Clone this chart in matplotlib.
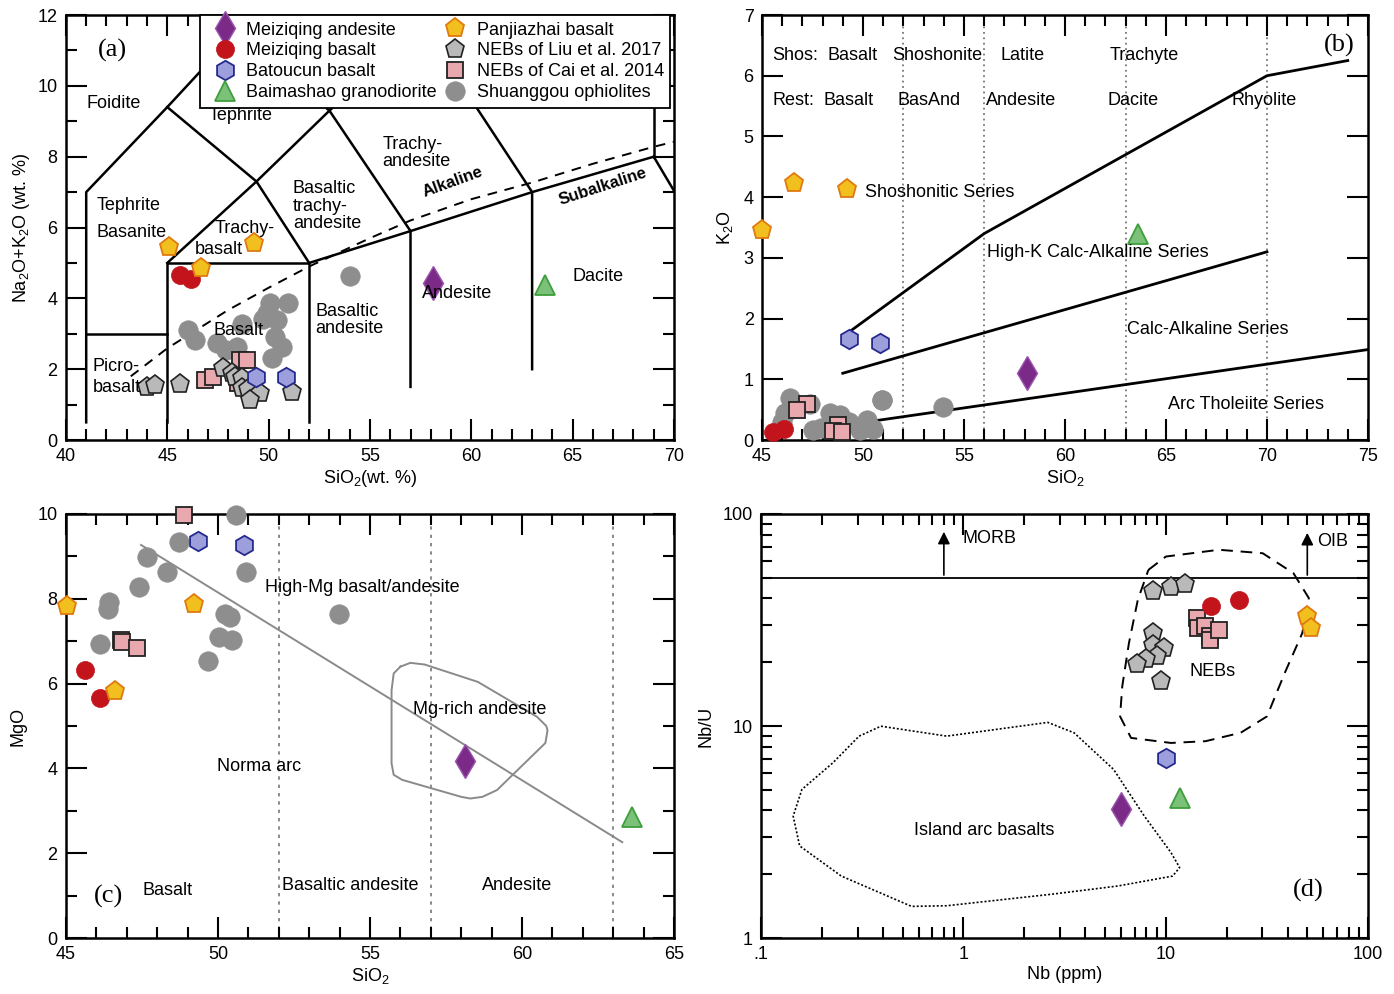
import numpy as np
import matplotlib
matplotlib.use("Agg")
import matplotlib.pyplot as plt
from matplotlib.ticker import MultipleLocator, FixedLocator, NullFormatter, LogLocator

plt.rcParams['font.family'] = ['Liberation Sans', 'DejaVu Sans']
plt.rcParams['mathtext.fontset'] = 'custom'
plt.rcParams['mathtext.rm'] = 'Liberation Sans'

# ---------------- data: (a) TAS ----------------
a_mzand_x = [58.13]; a_mzand_y = [4.44]
a_mzbas_x = [45.65, 46.15]; a_mzbas_y = [4.65, 4.55]
a_bat_x = [49.37, 50.88]; a_bat_y = [1.79, 1.79]
a_bms_x = [63.66]; a_bms_y = [4.38]
a_pjz_x = [45.09, 49.26, 46.65]; a_pjz_y = [5.46, 5.55, 4.85]
a_liu_x = [43.98, 44.39, 45.62, 47.76, 48.17, 48.34, 48.67, 48.67, 49.0, 49.57, 49.08, 51.13]
a_liu_y = [1.51, 1.55, 1.58, 2.02, 1.88, 1.79, 1.74, 1.46, 1.45, 1.32, 1.13, 1.36]
a_cai_x = [46.86, 47.27, 48.58, 48.91, 48.5]
a_cai_y = [1.69, 1.79, 2.26, 2.26, 1.6]
a_shg_x = [54.02, 50.06, 50.97, 49.74, 48.67, 50.39, 46.03, 46.36, 47.43, 47.92, 48.42, 50.31, 50.64, 50.15, 49.9]
a_shg_y = [4.63, 3.86, 3.86, 3.43, 3.29, 3.39, 3.11, 2.82, 2.73, 2.54, 2.63, 2.92, 2.63, 2.31, 3.6]

# TAS boundaries
tas_lines = [
    ([41, 41, 45, 48.4], [0.5, 7, 9.4, 11.5]),
    ([41, 45], [3, 3]),
    ([45, 45, 52, 52], [0.5, 5, 5, 0.5]),
    ([45, 49.4, 52], [5, 7.3, 5]),
    ([45, 49.4], [9.4, 7.3]),
    ([49.4, 53, 57.6], [7.3, 9.3, 11.7]),
    ([53, 57, 57], [9.3, 5.9, 1.5]),
    ([52, 57, 63, 69], [5, 5.9, 7, 8]),
    ([57.6, 63, 63], [11.7, 7, 2]),
    ([69, 69], [8, 13]),
    ([69, 77.3], [8, 0]),
    ([48.4, 53], [11.5, 9.3]),
]
alk_x = [43.2, 45, 48, 50, 52, 55, 57, 60, 63, 66, 69, 70]
alk_y = [1.8, 2.59, 3.67, 4.3, 4.9, 5.7, 6.2, 6.8, 7.27, 7.8, 8.28, 8.42]

# ---------------- data: (b) K2O-SiO2 ----------------
b_mzand_x = [58.11]; b_mzand_y = [1.11]
b_mzbas_x = [45.57, 46.09]; b_mzbas_y = [0.14, 0.19]
b_bat_x = [49.32, 50.86]; b_bat_y = [1.66, 1.6]
b_bms_x = [63.6]; b_bms_y = [3.4]
b_pjz_x = [45.02, 46.6, 49.22]; b_pjz_y = [3.46, 4.24, 4.13]
b_cai_x = [47.21, 46.72, 48.78, 48.5, 48.95]
b_cai_y = [0.6, 0.49, 0.25, 0.15, 0.14]
b_shg_x = [50.96, 53.97, 46.39, 46.14, 47.54, 48.37, 48.86, 50.18, 50.51, 49.85, 50.93, 47.38, 46.0, 49.3, 47.9]
b_shg_y = [0.66, 0.54, 0.69, 0.44, 0.16, 0.44, 0.41, 0.33, 0.19, 0.16, 0.66, 0.6, 0.3, 0.3, 0.2]

shos_x = [49.4, 56, 70, 74]; shos_y = [1.8, 3.4, 6.0, 6.25]
hk_x = [49.0, 70]; hk_y = [1.1, 3.1]
th_x = [49.4, 75]; th_y = [0.26, 1.49]
b_vlines = [52, 56, 63, 70]

# ---------------- data: (c) MgO-SiO2 ----------------
c_mzand_x = [58.11]; c_mzand_y = [4.18]
c_mzbas_x = [45.64, 46.12]; c_mzbas_y = [6.31, 5.67]
c_bat_x = [49.34, 50.86]; c_bat_y = [9.37, 9.27]
c_bms_x = [63.61]; c_bms_y = [2.86]
c_pjz_x = [45.04, 49.2, 46.61]; c_pjz_y = [7.82, 7.87, 5.83]
c_cai_x = [46.8, 46.85, 47.35, 48.88]; c_cai_y = [7.02, 6.98, 6.83, 9.98]
c_shg_x = [50.59, 48.71, 47.67, 48.34, 50.93, 47.4, 46.43, 46.39, 50.24, 50.41, 53.98, 50.03, 50.45, 49.68, 46.11]
c_shg_y = [9.98, 9.33, 8.98, 8.63, 8.64, 8.29, 7.92, 7.76, 7.65, 7.57, 7.63, 7.1, 7.04, 6.53, 6.93]

c_line_x = [47.47, 63.3]; c_line_y = [9.27, 2.26]
mgand_x = [56.0, 56.33, 56.8, 58.55, 60.49, 60.8, 60.84, 60.77, 59.18, 58.7, 58.3, 58.0, 56.06, 55.78, 55.71, 55.71, 55.78, 56.0]
mgand_y = [6.4, 6.49, 6.45, 6.04, 5.22, 5.0, 4.9, 4.6, 3.49, 3.33, 3.29, 3.33, 3.73, 3.85, 4.12, 5.84, 6.24, 6.4]
c_vlines = [52, 57, 63]

# ---------------- data: (d) Nb/U-Nb ----------------
d_mzand_x = [6.01]; d_mzand_y = [4.05]
d_mzbas_x = [16.8, 22.9]; d_mzbas_y = [36.9, 39.4]
d_bat_x = [10.0]; d_bat_y = [7.08]
d_bms_x = [11.8]; d_bms_y = [4.59]
d_pjz_x = [49.7, 52.2]; d_pjz_y = [32.9, 29.0]
d_liu_x = [8.65, 10.6, 12.4, 8.65, 8.65, 9.8, 9.0, 8.02, 7.19, 9.47]
d_liu_y = [43.1, 45.2, 46.9, 27.4, 24.2, 23.3, 21.5, 20.7, 19.7, 16.3]
d_cai_x = [14.3, 14.4, 15.7, 16.6, 16.6, 18.3]
d_cai_y = [32.3, 29.0, 29.5, 26.5, 25.5, 28.5]

neb_x = [8.2, 10.0, 18.3, 30.1, 42.7, 50.9, 47.2, 38.7, 31.6, 23.4, 15.7, 10.6, 6.73, 5.94, 6.09, 6.57, 7.27, 8.2]
neb_y = [54.5, 63.0, 67.8, 65.3, 52.6, 40.1, 27.4, 17.8, 11.1, 9.29, 8.48, 8.32, 8.79, 11.1, 15.4, 24.6, 39.4, 54.5]
iab_x = [0.391, 0.826, 2.61, 3.52, 5.52, 7.83, 10.6, 11.7, 10.8, 5.8, 2.74, 0.826, 0.554, 0.249, 0.155, 0.144, 0.159, 0.226, 0.305, 0.391]
iab_y = [9.98, 8.96, 10.4, 9.29, 6.24, 3.76, 2.53, 2.15, 1.96, 1.76, 1.61, 1.42, 1.41, 1.96, 2.72, 3.76, 5.02, 6.7, 8.96, 9.98]

STY = {
    'Meiziqing andesite': dict(marker='d', mfc='#7b2a87', mec='#9a55ad', ms=17, mew=1.0),
    'Meiziqing basalt': dict(marker='o', mfc='#c3141c', mec='#c3141c', ms=13, mew=0.5),
    'Batoucun basalt': dict(marker='h', mfc='#9d9fdc', mec='#252a8e', ms=14, mew=1.3),
    'Baimashao granodiorite': dict(marker='^', mfc='#7cc17a', mec='#3f9e3c', ms=15, mew=1.3),
    'Panjiazhai basalt': dict(marker='p', mfc='#f2c01e', mec='#e07a10', ms=14, mew=1.3),
    'NEBs of Liu et al. 2017': dict(marker='p', mfc='#b9b9b9', mec='#222222', ms=14, mew=1.2),
    'NEBs of Cai et al. 2014': dict(marker='s', mfc='#e9a8ae', mec='#222222', ms=12, mew=1.3),
    'Shuanggou ophiolites': dict(marker='o', mfc='#8e8e8e', mec='#8e8e8e', ms=14, mew=0.5),
}


def pts(ax, x, y, key):
    ax.plot(x, y, ls='none', clip_on=False, zorder=3, **STY[key])


def style(ax):
    ax.tick_params(which='both', direction='in', top=True, right=True, labelsize=13, width=1.5)
    ax.tick_params(which='major', length=15, pad=6)
    ax.tick_params(which='minor', length=8)
    for s in ax.spines.values():
        s.set_linewidth(1.8)


fig = plt.figure(figsize=(13.94, 9.94), dpi=100)
axa = fig.add_axes([0.0473, 0.5573, 0.4362, 0.4276])
axb = fig.add_axes([0.5466, 0.5573, 0.4347, 0.4276])
axc = fig.add_axes([0.0473, 0.0563, 0.4362, 0.4266])
axd = fig.add_axes([0.5460, 0.0563, 0.4355, 0.4266])

fs = 13

# ---------- (a) ----------
for lx, ly in tas_lines:
    axa.plot(lx, ly, color='k', lw=1.8, zorder=1)
axa.plot(alk_x, alk_y, color='k', lw=1.4, ls=(0, (5, 4)), zorder=1)
pts(axa, a_shg_x, a_shg_y, 'Shuanggou ophiolites')
pts(axa, a_cai_x, a_cai_y, 'NEBs of Cai et al. 2014')
pts(axa, a_liu_x, a_liu_y, 'NEBs of Liu et al. 2017')
pts(axa, a_mzbas_x, a_mzbas_y, 'Meiziqing basalt')
pts(axa, a_pjz_x, a_pjz_y, 'Panjiazhai basalt')
pts(axa, a_bat_x, a_bat_y, 'Batoucun basalt')
pts(axa, a_bms_x, a_bms_y, 'Baimashao granodiorite')
pts(axa, a_mzand_x, a_mzand_y, 'Meiziqing andesite')

order = ['Meiziqing andesite', 'Meiziqing basalt', 'Batoucun basalt', 'Baimashao granodiorite',
         'Panjiazhai basalt', 'NEBs of Liu et al. 2017', 'NEBs of Cai et al. 2014', 'Shuanggou ophiolites']
handles = [plt.Line2D([], [], ls='none', **STY[k]) for k in order]
leg = axa.legend(handles, order, ncol=2, loc='upper right', bbox_to_anchor=(0.994, 1.0),
                 borderaxespad=0, fontsize=13, frameon=True, fancybox=False, framealpha=1,
                 edgecolor='k', handletextpad=0.2, columnspacing=0.0, labelspacing=0.22,
                 borderpad=0.36, handlelength=2.0)
leg.get_frame().set_linewidth(1.3)
leg.set_zorder(10)

axa.text(42.3, 11.0, '(a)', family='Liberation Serif', fontsize=19, ha='center', va='center')
axa.text(42.37, 9.51, 'Foidite', fontsize=fs, ha='center', va='center')
axa.text(48.63, 9.15, 'Tephrite', fontsize=fs, ha='center', va='center')
axa.text(43.1, 6.63, 'Tephrite', fontsize=fs, ha='center', va='center')
axa.text(43.26, 5.87, 'Basanite', fontsize=fs, ha='center', va='center')
axa.text(48.83, 5.96, 'Trachy-', fontsize=fs, ha='center', va='center')
axa.text(47.55, 5.39, 'basalt', fontsize=fs, ha='center', va='center')
axa.text(51.2, 6.6, 'Basaltic\ntrachy-\nandesite', fontsize=fs, ha='left', va='center', linespacing=1.05)
axa.text(55.6, 8.1, 'Trachy-\nandesite', fontsize=fs, ha='left', va='center', linespacing=1.05)
axa.text(59.1, 7.3, 'Alkaline', fontsize=12, ha='center', va='center', rotation=20, weight='bold')
axa.text(66.5, 7.15, 'Subalkaline', fontsize=12, ha='center', va='center', rotation=18, weight='bold')
axa.text(52.3, 3.39, 'Basaltic\nandesite', fontsize=fs, ha='left', va='center', linespacing=1.05)
axa.text(59.3, 4.15, 'Andesite', fontsize=fs, ha='center', va='center')
axa.text(66.25, 4.63, 'Dacite', fontsize=fs, ha='center', va='center')
axa.text(48.5, 3.1, 'Basalt', fontsize=fs, ha='center', va='center')
axa.text(41.33, 1.78, 'Picro-\nbasalt', fontsize=fs, ha='left', va='center', linespacing=1.3)

axa.set_xlim(40, 70)
axa.set_ylim(0, 12)
axa.xaxis.set_major_locator(MultipleLocator(5))
axa.xaxis.set_minor_locator(MultipleLocator(1))
axa.yaxis.set_major_locator(MultipleLocator(2))
axa.yaxis.set_minor_locator(MultipleLocator(1))
axa.set_xlabel(r'SiO$_2$(wt. %)', fontsize=13, labelpad=2)
axa.set_ylabel(r'Na$_2$O+K$_2$O (wt. %)', fontsize=13, labelpad=4)
style(axa)

# ---------- (b) ----------
for v in b_vlines:
    axb.axvline(v, color='#777777', lw=1.3, ls=(0, (1, 2)), zorder=1)
axb.plot(shos_x, shos_y, color='k', lw=2, zorder=1)
axb.plot(hk_x, hk_y, color='k', lw=2, zorder=1)
axb.plot(th_x, th_y, color='k', lw=2, zorder=1)
pts(axb, b_shg_x, b_shg_y, 'Shuanggou ophiolites')
pts(axb, b_cai_x, b_cai_y, 'NEBs of Cai et al. 2014')
pts(axb, b_mzbas_x, b_mzbas_y, 'Meiziqing basalt')
pts(axb, b_pjz_x, b_pjz_y, 'Panjiazhai basalt')
pts(axb, b_bat_x, b_bat_y, 'Batoucun basalt')
pts(axb, b_bms_x, b_bms_y, 'Baimashao granodiorite')
pts(axb, b_mzand_x, b_mzand_y, 'Meiziqing andesite')

row1 = [(45.5, 'Shos:'), (48.24, 'Basalt'), (51.45, 'Shoshonite'), (56.8, 'Latite'), (62.22, 'Trachyte')]
row2 = [(45.5, 'Rest:'), (48.03, 'Basalt'), (51.7, 'BasAnd'), (56.1, 'Andesite'), (62.12, 'Dacite'), (68.27, 'Rhyolite')]
for x, t in row1:
    axb.text(x, 6.34, t, fontsize=fs, ha='left', va='center')
for x, t in row2:
    axb.text(x, 5.6, t, fontsize=fs, ha='left', va='center')
axb.text(73.6, 6.5, '(b)', family='Liberation Serif', fontsize=19, ha='center', va='center')
axb.text(50.12, 4.07, 'Shoshonitic Series', fontsize=fs, ha='left', va='center')
axb.text(56.12, 3.09, 'High-K Calc-Alkaline Series', fontsize=fs, ha='left', va='center')
axb.text(63.08, 1.82, 'Calc-Alkaline Series', fontsize=fs, ha='left', va='center')
axb.text(65.09, 0.58, 'Arc Tholeiite Series', fontsize=fs, ha='left', va='center')

axb.set_xlim(45, 75)
axb.set_ylim(0, 7)
axb.xaxis.set_major_locator(MultipleLocator(5))
axb.xaxis.set_minor_locator(MultipleLocator(1))
axb.yaxis.set_major_locator(MultipleLocator(1))
axb.set_xlabel(r'SiO$_2$', fontsize=13, labelpad=2)
axb.set_ylabel(r'K$_2$O', fontsize=13, labelpad=6)
style(axb)

# ---------- (c) ----------
for v in c_vlines:
    axc.axvline(v, color='#777777', lw=1.2, ls=(0, (2, 3)), zorder=1)
axc.plot(c_line_x, c_line_y, color='#8a8a8a', lw=1.4, zorder=1)
axc.plot(mgand_x, mgand_y, color='#8a8a8a', lw=1.4, zorder=1)
pts(axc, c_shg_x, c_shg_y, 'Shuanggou ophiolites')
pts(axc, c_cai_x, c_cai_y, 'NEBs of Cai et al. 2014')
pts(axc, c_mzbas_x, c_mzbas_y, 'Meiziqing basalt')
pts(axc, c_pjz_x, c_pjz_y, 'Panjiazhai basalt')
pts(axc, c_bat_x, c_bat_y, 'Batoucun basalt')
pts(axc, c_bms_x, c_bms_y, 'Baimashao granodiorite')
pts(axc, c_mzand_x, c_mzand_y, 'Meiziqing andesite')

axc.text(51.56, 8.27, 'High-Mg basalt/andesite', fontsize=fs, ha='left', va='center')
axc.text(56.41, 5.39, 'Mg-rich andesite', fontsize=fs, ha='left', va='center')
axc.text(49.96, 4.04, 'Norma arc', fontsize=fs, ha='left', va='center')
axc.text(47.51, 1.12, 'Basalt', fontsize=fs, ha='left', va='center')
axc.text(46.39, 0.98, '(c)', family='Liberation Serif', fontsize=19, ha='center', va='center')
axc.text(52.11, 1.25, 'Basaltic andesite', fontsize=fs, ha='left', va='center')
axc.text(58.67, 1.25, 'Andesite', fontsize=fs, ha='left', va='center')

axc.set_xlim(45, 65)
axc.set_ylim(0, 10)
axc.xaxis.set_major_locator(MultipleLocator(5))
axc.xaxis.set_minor_locator(MultipleLocator(1))
axc.yaxis.set_major_locator(MultipleLocator(2))
axc.yaxis.set_minor_locator(MultipleLocator(1))
axc.set_xlabel(r'SiO$_2$', fontsize=13, labelpad=2)
axc.set_ylabel('MgO', fontsize=13, labelpad=8)
style(axc)

# ---------- (d) ----------
axd.set_xscale('log')
axd.set_yscale('log')
axd.axhline(50, color='k', lw=1.3, zorder=1)
axd.annotate('', xy=(0.8, 85), xytext=(0.8, 50),
             arrowprops=dict(arrowstyle='-|>', color='k', lw=1.2, mutation_scale=18))
axd.annotate('', xy=(50, 84), xytext=(50, 50),
             arrowprops=dict(arrowstyle='-|>', color='k', lw=1.2, mutation_scale=18))
axd.text(0.99, 77, 'MORB', fontsize=fs, ha='left', va='center')
axd.text(56, 74, 'OIB', fontsize=fs, ha='left', va='center')
axd.plot(neb_x, neb_y, color='k', lw=1.4, ls=(0, (6, 4)), zorder=1)
axd.plot(iab_x, iab_y, color='k', lw=1.2, ls=(0, (1.2, 1.2)), zorder=1)
pts(axd, d_liu_x, d_liu_y, 'NEBs of Liu et al. 2017')
pts(axd, d_cai_x, d_cai_y, 'NEBs of Cai et al. 2014')
pts(axd, d_mzbas_x, d_mzbas_y, 'Meiziqing basalt')
pts(axd, d_pjz_x, d_pjz_y, 'Panjiazhai basalt')
pts(axd, d_bat_x, d_bat_y, 'Batoucun basalt')
pts(axd, d_bms_x, d_bms_y, 'Baimashao granodiorite')
pts(axd, d_mzand_x, d_mzand_y, 'Meiziqing andesite')

axd.text(17.0, 18.1, 'NEBs', fontsize=fs, ha='center', va='center')
axd.text(1.26, 3.2, 'Island arc basalts', fontsize=fs, ha='center', va='center')
axd.text(50.5, 1.67, '(d)', family='Liberation Serif', fontsize=19, ha='center', va='center')

axd.set_xlim(0.1, 100)
axd.set_ylim(1, 100)
axd.xaxis.set_major_locator(FixedLocator([0.1, 1, 10, 100]))
axd.set_xticklabels(['.1', '1', '10', '100'])
axd.xaxis.set_minor_locator(LogLocator(base=10, subs=np.arange(2, 10)))
axd.xaxis.set_minor_formatter(NullFormatter())
axd.yaxis.set_major_locator(FixedLocator([1, 10, 100]))
axd.set_yticklabels(['1', '10', '100'])
axd.yaxis.set_minor_locator(LogLocator(base=10, subs=np.arange(2, 10)))
axd.yaxis.set_minor_formatter(NullFormatter())
axd.set_xlabel('Nb (ppm)', fontsize=13, labelpad=2)
axd.set_ylabel('Nb/U', fontsize=13, labelpad=6)
style(axd)

fig.savefig('out.png', dpi=100)
